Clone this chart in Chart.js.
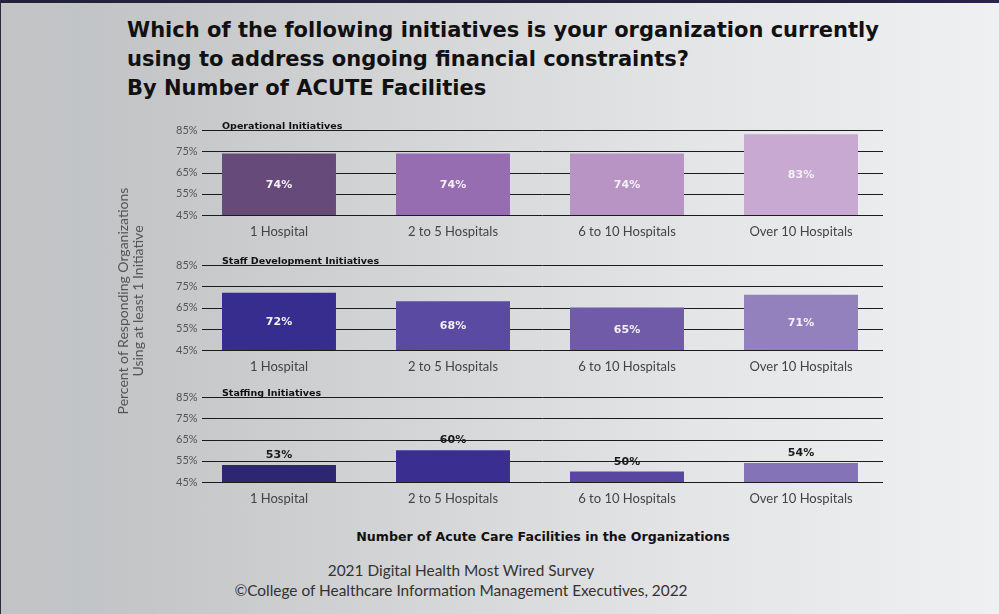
<!DOCTYPE html>
<html>
<head>
<meta charset="utf-8">
<script src="https://cdn.jsdelivr.net/npm/chart.js@4"></script>
<style>
  html, body { margin: 0; padding: 0; }
  body {
    width: 999px; height: 614px; position: relative; overflow: hidden;
    background: linear-gradient(to right, #c2c3c5 0%, #c1c4c6 8%, #c5c6c8 15%, #d6d7d8 45%, #e4e5e6 70%, #eef0f1 100%);
    font-family: 'Lato', sans-serif;
  }
  .topbar { position: absolute; left: 0; top: 0; width: 999px; height: 3px;
    background: linear-gradient(to right, #22213a 0%, #24213d 85%, #2c2050 100%); }
  .leftbar { position: absolute; left: 0; top: 0; width: 1px; height: 614px; background: #2a2940; }
  .title { position: absolute; left: 127px; top: 16px; font-family: 'DejaVu Sans', sans-serif;
    font-weight: 700; font-size: 21px; line-height: 29px; color: #111; }
  .panel { position: absolute; left: 140px; width: 760px; }
  .ptitle { position: absolute; left: 222px; font-family: 'DejaVu Sans', sans-serif; font-weight: 700;
    font-size: 9.5px; color: #111; line-height: 12px; }
  .ytitle { position: absolute; left: 130px; top: 301px; width: 300px; transform: translate(-50%, -50%) rotate(-90deg);
    text-align: center; font-size: 14px; line-height: 15px; color: #555; }
  .xtitle { position: absolute; left: 243px; width: 600px; top: 529px; text-align: center;
    font-family: 'DejaVu Sans', sans-serif; font-weight: 700; font-size: 12.6px; color: #111; }
  .footer { position: absolute; left: 161px; width: 600px; top: 560px; text-align: center;
    font-size: 15.4px; line-height: 20px; color: #333; }
</style>
</head>
<body>
<div class="topbar"></div>
<div class="leftbar"></div>
<div class="title">Which of the following initiatives is your organization currently<br>using to address ongoing financial constraints?<br>By Number of ACUTE Facilities</div>

<div class="panel" style="top:115px;height:130px"><canvas id="chart1"></canvas></div>
<div class="panel" style="top:250px;height:130px"><canvas id="chart2"></canvas></div>
<div class="panel" style="top:382px;height:130px"><canvas id="chart3"></canvas></div>

<div class="ptitle" style="top:120px">Operational Initiatives</div>
<div class="ptitle" style="top:255px">Staff Development Initiatives</div>
<div class="ptitle" style="top:387px">Staffing Initiatives</div>

<div class="ytitle">Percent of Responding Organizations<br>Using at least 1 Initiative</div>
<div class="xtitle">Number of Acute Care Facilities in the Organizations</div>
<div class="footer">2021 Digital Health Most Wired Survey<br>©College of Healthcare Information Management Executives, 2022</div>

<script>
// Data
const categories = ['1 Hospital', '2 to 5 Hospitals', '6 to 10 Hospitals', 'Over 10 Hospitals'];
const operational = [74, 74, 74, 83];
const staffDevelopment = [72, 68, 65, 71];
const staffing = [53, 60, 50, 54];
const yMin = 45, yMax = 85, yStep = 10;

// Colors
const operationalColors = ['#654a7a', '#966db0', '#b894c5', '#c7a9d1'];
const staffDevColors = ['#372d8e', '#5b4aa2', '#6f5ba8', '#9281bd'];
const staffingColors = ['#2d2670', '#3a2e91', '#5846a0', '#8473b6'];

// Horizontal lines behind the bars, slightly inset from the chart area
const gridPlugin = {
    id: 'insetGrid',
    beforeDatasetsDraw(chart) {
        const { ctx, chartArea, scales } = chart;
        ctx.save();
        ctx.strokeStyle = '#1c1c1c';
        ctx.lineWidth = 1;
        scales.y.ticks.forEach(t => {
            const y = Math.round(scales.y.getPixelForValue(t.value)) + 0.5;
            ctx.beginPath();
            ctx.moveTo(chartArea.left + 10, y);
            ctx.lineTo(chartArea.right - 5, y);
            ctx.stroke();
        });
        ctx.restore();
    }
};

// Value labels, inside or above the bars
const labelPlugin = {
    id: 'valueLabels',
    afterDatasetsDraw(chart) {
        const { ctx, chartArea } = chart;
        const inside = chart.options.plugins.valueLabels.inside;
        const meta = chart.getDatasetMeta(0);
        const data = chart.data.datasets[0].data;
        ctx.save();
        ctx.font = 'bold 11px "DejaVu Sans"';
        ctx.textAlign = 'center';
        meta.data.forEach((bar, i) => {
            const text = data[i] + '%';
            const bottom = Math.min(bar.base, chartArea.bottom);
            if (inside) {
                ctx.fillStyle = '#f4f0f7';
                ctx.textBaseline = 'middle';
                ctx.fillText(text, bar.x, (bar.y + bottom) / 2 + 1);
            } else {
                ctx.fillStyle = '#1a1a1a';
                ctx.textBaseline = 'bottom';
                ctx.fillText(text, bar.x, bar.y - 4);
            }
        });
        ctx.restore();
    }
};

function makePanel(id, values, colors, inside) {
    return new Chart(document.getElementById(id), {
        type: 'bar',
        data: {
            labels: categories,
            datasets: [{
                data: values,
                backgroundColor: colors,
                borderWidth: 0,
                barPercentage: 0.655,
                categoryPercentage: 1
            }]
        },
        options: {
            responsive: true,
            maintainAspectRatio: false,
            animation: false,
            layout: { padding: { top: 15, right: 12, left: 0, bottom: 0 } },
            plugins: {
                legend: { display: false },
                tooltip: { enabled: false },
                valueLabels: { inside: inside }
            },
            scales: {
                x: {
                    grid: { display: false, drawTicks: false },
                    border: { display: false },
                    ticks: {
                        color: '#444',
                        padding: 9,
                        font: { family: 'Lato', size: 13 }
                    },
                    afterFit: s => { s.height = 30; }
                },
                y: {
                    min: yMin,
                    max: yMax,
                    grid: { display: false, drawTicks: false },
                    border: { display: false },
                    ticks: {
                        stepSize: yStep,
                        color: '#555',
                        mirror: true,
                        padding: -16,
                        font: { family: 'Lato', size: 11 },
                        callback: v => v + '%'
                    },
                    afterFit: s => { s.width = 52; }
                }
            }
        },
        plugins: [gridPlugin, labelPlugin]
    });
}

makePanel('chart1', operational, operationalColors, true);
makePanel('chart2', staffDevelopment, staffDevColors, true);
makePanel('chart3', staffing, staffingColors, false);
</script>
</body>
</html>
